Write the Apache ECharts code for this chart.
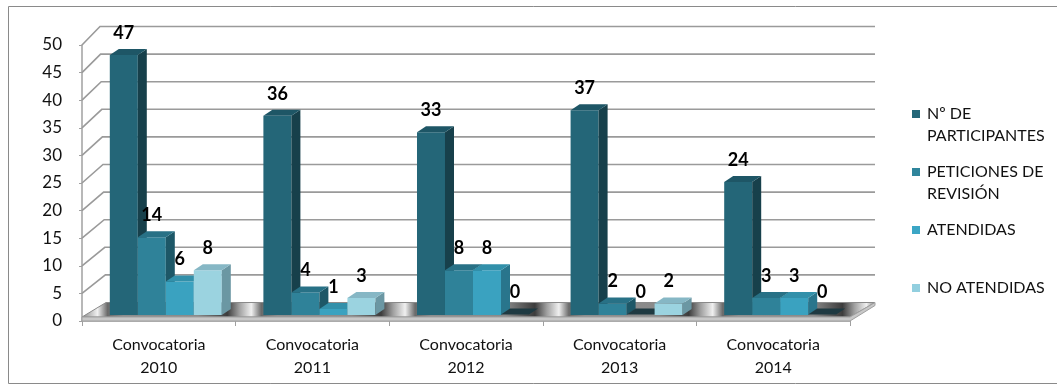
<!DOCTYPE html>
<html>
<head>
<meta charset="utf-8">
<script src="https://cdn.jsdelivr.net/npm/echarts@6/dist/echarts.min.js"></script>
<style>
  html, body { margin: 0; padding: 0; background: #fff; }
  #main { width: 1057px; height: 385px; }
</style>
</head>
<body>
<div id="main"></div>
<script>
const categories = ['Convocatoria\n2010', 'Convocatoria\n2011', 'Convocatoria\n2012', 'Convocatoria\n2013', 'Convocatoria\n2014']
const seriesNames = ['Nº DE\nPARTICIPANTES', 'PETICIONES DE\nREVISIÓN', 'ATENDIDAS', 'NO ATENDIDAS']
const participantes = [47, 36, 33, 37, 24]
const peticiones = [14, 4, 8, 2, 3]
const atendidas = [6, 1, 8, 0, 3]
const noAtendidas = [8, 3, 0, 2, 0]
const yTicks = [0, 5, 10, 15, 20, 25, 30, 35, 40, 45, 50]

// front / top / side colours of each series
const faceColors = [
    ['#246678', '#1e5666', '#17404b'],
    ['#2f8299', '#287186', '#1d5767'],
    ['#3aa2c0', '#3290aa', '#29758c'],
    ['#9bd3e0', '#86b7c5', '#6b97a3']
]
const legendColors = ['#246778', '#2f859c', '#3ba6c5', '#92cfdf']
const allValues = [participantes, peticiones, atendidas, noAtendidas]

const chart = echarts.init(document.getElementById('main'))

// metallic floor: dark / glint bands near each category boundary
const floorGradient = (left, right) => {
    const w = right + 25 - left
    const band = (right - left) / categories.length
    const stops = []
    const push = (px, color) => {
        const o = px / w
        if (o >= 0 && o <= 1) stops.push({ offset: o, color })
    }
    push(0, '#8a8a8a')
    for (let k = 0; k <= categories.length; k++) {
        const b = k * band + 6
        push(b - 14, '#3c3c3c')
        push(b - 2, '#a0a0a0')
        push(b + 10, '#f0f0f0')
        push(b + 20, '#6a6a6a')
        push(b + 36, '#8e8e8e')
        push(b + 110, '#8a8a8a')
    }
    push(w, '#7a7a7a')
    stops.sort((a, b) => a.offset - b.offset)
    return new echarts.graphic.LinearGradient(0, 0, 1, 0, stops)
}

// back wall lines and floor
const renderWall = (params, api) => {
    const v = api.value(1)
    const cs = params.coordSys
    const y = api.coord([0, v])[1]
    const left = cs.x
    const right = cs.x + cs.width
    const dx = 24 - 6 * v / 50
    const dy = 18.5
    if (v === 0) {
        return {
            type: 'group',
            children: [
                {
                    type: 'polygon',
                    shape: { points: [[left, y - 4], [right, y - 4], [right + 25, y - dy], [left + dx, y - dy]] },
                    style: { fill: floorGradient(left, right), stroke: '#8a8a8a', lineWidth: 1 }
                },
                {
                    type: 'polygon',
                    shape: { points: [[left, y - 4], [right, y - 4], [right + 25, y - dy], [right + 25, y - dy + 3], [right, y], [left, y]] },
                    style: { fill: '#c8c8c8', stroke: '#a0a0a0', lineWidth: 1 }
                }
            ]
        }
    }
    return {
        type: 'polyline',
        shape: { points: [[left, y], [left + dx, y - dy], [right + 25, y - dy]] },
        style: { stroke: '#9a9a9a', lineWidth: 1.6, fill: null }
    }
}

const makeBarRenderer = (s) => (params, api) => {
    const i = api.value(0)
    const v = api.value(1)
    const band = api.size([1, 0])[0]
    const bw = band * 0.1823
    const c = api.coord([i, 0])[0]
    const xl = c - 2 * bw + s * bw + 7
    const xr = xl + bw
    const yt = api.coord([i, v])[1] - 6.5
    const yb = api.coord([i, 0])[1] - 6
    const ddx = 9
    const ddy = 6
    const col = faceColors[s]
    const children = []
    if (v > 0) {
        children.push({
            type: 'rect',
            shape: { x: xl, y: yt, width: bw, height: yb - yt },
            style: { fill: col[0] }
        })
        children.push({
            type: 'polygon',
            shape: { points: [[xr, yt], [xr + ddx, yt - ddy], [xr + ddx, yb - ddy], [xr, yb]] },
            style: { fill: col[2] }
        })
    }
    children.push({
        type: 'polygon',
        shape: { points: [[xl, yt], [xl + ddx, yt - ddy], [xr + ddx, yt - ddy], [xr, yt]] },
        style: { fill: v > 0 ? col[1] : '#1f3a42' }
    })
    children.push({
        type: 'text',
        style: {
            text: String(v),
            x: xl + bw / 2,
            y: yt - ddy - 16,
            align: 'center',
            verticalAlign: 'middle',
            font: 'bold 18px Lato',
            fill: '#000'
        }
    })
    return { type: 'group', children }
}

const barSeries = allValues.map((vals, s) => ({
    name: seriesNames[s],
    type: 'custom',
    renderItem: makeBarRenderer(s),
    itemStyle: { color: legendColors[s] },
    encode: { x: 0, y: 1 },
    data: vals.map((v, i) => [i, v]),
    z: 3
}))

// one legend per entry so the rows sit where Excel put them
const legendTops = [81, 139, 219, 277]
const legends = seriesNames.map((name, s) => ({
    data: [name],
    orient: 'vertical',
    left: 912,
    top: legendTops[s],
    padding: 0,
    icon: 'rect',
    itemWidth: 8,
    itemHeight: 8,
    selectedMode: false,
    // blank first line keeps the icon beside the first text line
    formatter: n => (n.indexOf('\n') >= 0 ? ' \n' + n : n),
    textStyle: {
        fontFamily: 'Lato',
        fontSize: 16,
        color: '#111',
        lineHeight: 22,
        padding: [0, 0, 0, 2]
    }
}))

const option = {
    backgroundColor: '#fff',
    animation: false,
    graphic: [
        {
            type: 'rect',
            shape: { x: 8.5, y: 6.5, width: 1060, height: 377 },
            style: { fill: null, stroke: '#8a8a8a', lineWidth: 1 },
            silent: true
        }
    ],
    legend: legends,
    grid: {
        left: 82,
        right: 207,
        top: 45,
        bottom: 64
    },
    xAxis: {
        type: 'category',
        data: categories,
        axisLine: { lineStyle: { color: '#a0a0a0', width: 1.5 } },
        axisTick: { show: true, length: 5, lineStyle: { color: '#a0a0a0' } },
        axisLabel: {
            fontFamily: 'Lato',
            fontSize: 16,
            lineHeight: 23,
            color: '#111',
            margin: 12
        },
        splitLine: { show: false }
    },
    yAxis: {
        type: 'value',
        min: 0,
        max: 50,
        interval: 5,
        axisLine: { show: true, lineStyle: { color: '#a0a0a0', width: 1.5 } },
        axisTick: { show: true, length: 3, lineStyle: { color: '#a0a0a0' } },
        axisLabel: {
            fontFamily: 'Lato',
            fontSize: 17,
            color: '#111',
            margin: 20
        },
        splitLine: { show: false }
    },
    series: [
        {
            name: 'wall',
            type: 'custom',
            renderItem: renderWall,
            encode: { x: 0, y: 1 },
            data: yTicks.map(v => [0, v]),
            silent: true,
            z: 1
        },
        ...barSeries
    ]
}
chart.setOption(option)
</script>
</body>
</html>
